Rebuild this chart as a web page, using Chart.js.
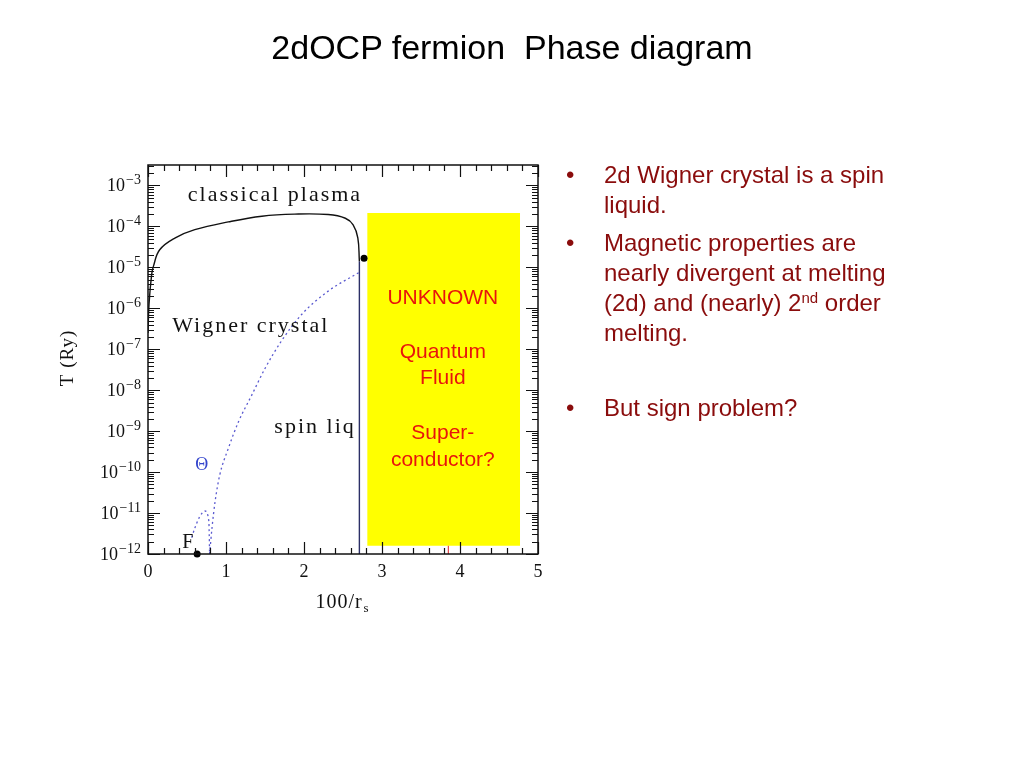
<!DOCTYPE html>
<html>
<head>
<meta charset="utf-8">
<script src="https://cdn.jsdelivr.net/npm/chart.js@4.4.1/dist/chart.umd.min.js"></script>
<style>
  body { margin: 0; background: #fff; }
  #wrap { position: absolute; left: 0; top: 0; width: 1024px; height: 768px; }
  .title { position: absolute; left: 0; width: 1024px; top: 28px; line-height: 40px; text-align: center;
           font: 34px 'Liberation Sans', Arial, sans-serif; color: #000; white-space: nowrap; }
  .bullet { position: absolute; left: 566px; font: 24px 'Liberation Sans', Arial, sans-serif; line-height: 30px;
            color: #8a0c0c; white-space: nowrap; }
  .bullet .dot { position: absolute; left: 0; top: 0; }
  .bullet .txt { position: absolute; left: 38px; top: 0; }
  sup { font-size: 15px; line-height: 0; vertical-align: 8px; }
</style>
</head>
<body>
<div id="wrap"><canvas id="phase-chart" width="1024" height="768"></canvas></div>
<div class="title">2dOCP fermion&nbsp; Phase diagram</div>
<div class="bullet" style="top:160px"><span class="dot">•</span><span class="txt">2d Wigner crystal is a spin<br>liquid.</span></div>
<div class="bullet" style="top:228px"><span class="dot">•</span><span class="txt">Magnetic properties are<br>nearly divergent at melting<br>(2d) and (nearly) 2<sup>nd</sup> order<br>melting.</span></div>
<div class="bullet" style="top:393px"><span class="dot">•</span><span class="txt">But sign problem?</span></div>
<script>
const phaseChart = document.getElementById('phase-chart');

// melting curve (solid), x = 100/rs, values are log10 T
const meltX = [0.0, 0.013, 0.047, 0.07, 0.15, 0.35, 0.60, 1.03, 1.46, 1.88, 2.31, 2.53, 2.63, 2.69, 2.71];
const meltLogT = [-6.6, -5.9, -5.17, -4.97, -4.57, -4.28, -4.08, -3.89, -3.75, -3.70, -3.71, -3.80, -3.96, -4.28, -4.85];
// spin liquid boundary (vertical)
const spinX = [2.71, 2.71];
const spinLogT = [-4.85, -12];
// Theta curve (dotted)
const thetaX = [2.70, 2.31, 1.97, 1.71, 1.50, 1.33, 1.16, 1.03, 0.92, 0.86, 0.82, 0.79];
const thetaLogT = [-5.13, -5.58, -6.15, -6.80, -7.47, -8.12, -8.77, -9.42, -10.07, -10.72, -11.37, -12];
// small dome near F
const domeX = [0.56, 0.60, 0.66, 0.73, 0.78, 0.79];
const domeLogT = [-11.6, -11.37, -11.1, -10.95, -11.2, -12];
// points
const critX = [2.77];
const critLogT = [-4.78];
const fermiX = [0.63];
const fermiLogT = [-12];
// unknown region
const boxX = [2.81, 4.77];
const boxTopLogT = -3.67;
const boxBottomLogT = -11.8;
const redMarkX = [3.85, 3.85];
const redMarkLogT = [-12, -11.8];

// axis ticks
const xMajor = [0, 1, 2, 3, 4, 5];
const xMinorStep = 0.2;
const yDecades = [-12, -11, -10, -9, -8, -7, -6, -5, -4, -3];

const pts = (xs, ls) => xs.map((x, i) => ({ x: x, y: Math.pow(10, ls[i]) }));

const notes = [
    { text: 'classical plasma', x: 0.51, logT: -3.25, align: 'left', color: '#111', font: '22px "Liberation Serif", serif', spacing: '2px' },
    { text: 'Wigner crystal', x: 0.31, logT: -6.44, align: 'left', color: '#111', font: '22px "Liberation Serif", serif', spacing: '2px' },
    { text: 'spin liq', x: 1.62, logT: -8.9, align: 'left', color: '#111', font: '22px "Liberation Serif", serif', spacing: '2px' },
    { text: 'Θ', x: 0.69, logT: -9.83, align: 'center', color: '#3344cc', font: '18px "Liberation Serif", serif', spacing: '0px' },
    { text: 'F', x: 0.51, logT: -11.73, align: 'center', color: '#111', font: '20px "Liberation Serif", serif', spacing: '0px' },
    { text: 'UNKNOWN', x: 3.78, logT: -5.76, align: 'center', color: '#e8140c', font: '21px "Liberation Sans", Arial, sans-serif', spacing: '0px' },
    { text: 'Quantum', x: 3.78, logT: -7.07, align: 'center', color: '#e8140c', font: '21px "Liberation Sans", Arial, sans-serif', spacing: '0px' },
    { text: 'Fluid', x: 3.78, logT: -7.7, align: 'center', color: '#e8140c', font: '21px "Liberation Sans", Arial, sans-serif', spacing: '0px' },
    { text: 'Super-', x: 3.78, logT: -9.05, align: 'center', color: '#e8140c', font: '21px "Liberation Sans", Arial, sans-serif', spacing: '0px' },
    { text: 'conductor?', x: 3.78, logT: -9.71, align: 'center', color: '#e8140c', font: '21px "Liberation Sans", Arial, sans-serif', spacing: '0px' }
];

const framePlugin = {
    id: 'framePlugin',
    afterDatasetsDraw(chart) {
        const { ctx, chartArea: a, scales: { x, y } } = chart;
        ctx.save();
        ctx.strokeStyle = '#111';
        ctx.lineWidth = 1.2;
        ctx.beginPath();
        // x ticks, bottom and top, pointing inward
        for (let v = 0; v <= 5.0001; v += xMinorStep) {
            const px = Math.round(x.getPixelForValue(v)) + 0.5;
            const len = Math.abs(v - Math.round(v)) < 1e-6 ? 12 : 6;
            ctx.moveTo(px, a.bottom); ctx.lineTo(px, a.bottom - len);
            ctx.moveTo(px, a.top); ctx.lineTo(px, a.top + len);
        }
        // y ticks, left and right
        for (let e = -12; e <= -3; e++) {
            for (let m = 1; m <= 9; m++) {
                const v = m * Math.pow(10, e);
                if (v > y.max * 1.0001) break;
                const py = Math.round(y.getPixelForValue(v)) + 0.5;
                const len = m === 1 ? 12 : 6;
                ctx.moveTo(a.left, py); ctx.lineTo(a.left + len, py);
                ctx.moveTo(a.right, py); ctx.lineTo(a.right - len, py);
            }
        }
        ctx.stroke();
        ctx.lineWidth = 1.5;
        ctx.strokeRect(a.left, a.top, a.right - a.left, a.bottom - a.top);

        // y tick labels 10^n
        ctx.fillStyle = '#111';
        ctx.textBaseline = 'alphabetic';
        yDecades.forEach(e => {
            const py = y.getPixelForValue(Math.pow(10, e));
            ctx.font = '14px "Liberation Serif", serif';
            const sup = '\u2212' + Math.abs(e);
            const supW = ctx.measureText(sup).width;
            const right = a.left - 7;
            ctx.textAlign = 'left';
            ctx.fillText(sup, right - supW, py - 1);
            ctx.font = '18px "Liberation Serif", serif';
            ctx.textAlign = 'right';
            ctx.fillText('10', right - supW - 1, py + 6);
        });

        // axis titles
        ctx.textAlign = 'left';
        ctx.font = '20px "Liberation Serif", serif';
        ctx.letterSpacing = '1px';
        const base = '100/r';
        const bw = ctx.measureText(base).width;
        const tx = (a.left + a.right) / 2 - (bw + 8) / 2;
        ctx.fillText(base, tx, 608);
        ctx.font = '13px "Liberation Serif", serif';
        ctx.fillText('s', tx + bw + 1, 612);

        ctx.save();
        ctx.translate(73, 358);
        ctx.rotate(-Math.PI / 2);
        ctx.font = '19px "Liberation Serif", serif';
        ctx.textAlign = 'center';
        ctx.fillText('T (Ry)', 0, 0);
        ctx.restore();

        // region labels
        ctx.textBaseline = 'middle';
        notes.forEach(n => {
            ctx.font = n.font;
            ctx.letterSpacing = n.spacing;
            ctx.fillStyle = n.color;
            ctx.textAlign = n.align;
            ctx.fillText(n.text, x.getPixelForValue(n.x), y.getPixelForValue(Math.pow(10, n.logT)));
        });
        ctx.restore();
    }
};

new Chart(phaseChart, {
    type: 'line',
    data: {
        datasets: [
            {
                data: pts(meltX, meltLogT),
                borderColor: '#111',
                borderWidth: 1.4,
                pointRadius: 0,
                tension: 0.4,
                fill: false
            },
            {
                data: pts(spinX, spinLogT),
                borderColor: '#2b2f66',
                borderWidth: 1.4,
                pointRadius: 0,
                fill: false
            },
            {
                data: pts(thetaX, thetaLogT),
                borderColor: '#5a5ad0',
                borderWidth: 1.3,
                borderDash: [2, 3],
                pointRadius: 0,
                cubicInterpolationMode: 'monotone',
                fill: false
            },
            {
                data: pts(domeX, domeLogT),
                borderColor: '#5a5ad0',
                borderWidth: 1.3,
                borderDash: [2, 3],
                pointRadius: 0,
                cubicInterpolationMode: 'monotone',
                fill: false
            },
            {
                data: pts(critX, critLogT),
                showLine: false,
                pointRadius: 3.5,
                pointBackgroundColor: '#000',
                pointBorderWidth: 0,
                clip: false
            },
            {
                data: pts(fermiX, fermiLogT),
                showLine: false,
                pointRadius: 3.5,
                pointBackgroundColor: '#000',
                pointBorderWidth: 0,
                clip: false
            },
            {
                data: pts(redMarkX, redMarkLogT),
                borderColor: '#e02020',
                borderWidth: 1,
                pointRadius: 0,
                fill: false,
                order: 5
            },
            {
                data: pts(boxX, [boxTopLogT, boxTopLogT]),
                borderWidth: 0,
                pointRadius: 0,
                backgroundColor: '#ffff00',
                fill: '+1',
                order: 10
            },
            {
                data: pts(boxX, [boxBottomLogT, boxBottomLogT]),
                borderWidth: 0,
                pointRadius: 0,
                fill: false,
                order: 10
            }
        ]
    },
    options: {
        responsive: false,
        animation: false,
        layout: {
            padding: { left: 40, top: 165, right: 486, bottom: 154 }
        },
        plugins: {
            legend: { display: false },
            tooltip: { enabled: false }
        },
        scales: {
            x: {
                type: 'linear',
                min: 0,
                max: 5,
                afterBuildTicks: s => { s.ticks = xMajor.map(v => ({ value: v })); },
                afterFit: s => { s.height = 60; },
                grid: { display: false, drawTicks: false },
                border: { display: false },
                ticks: {
                    padding: 7,
                    color: '#111',
                    font: { family: 'Liberation Serif', size: 18 }
                }
            },
            y: {
                type: 'logarithmic',
                min: 1e-12,
                max: Math.pow(10, -2.5),
                afterBuildTicks: s => { s.ticks = yDecades.map(e => ({ value: Math.pow(10, e) })); },
                afterFit: s => { s.width = 108; },
                grid: { display: false, drawTicks: false },
                border: { display: false },
                ticks: { display: false }
            }
        }
    },
    plugins: [framePlugin]
});
</script>
</body>
</html>
